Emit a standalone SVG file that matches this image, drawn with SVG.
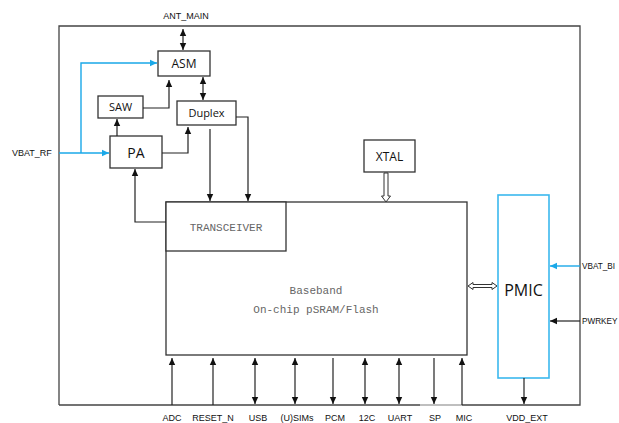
<svg xmlns="http://www.w3.org/2000/svg" width="619" height="423" viewBox="0 0 619 423">
<defs>
<marker id="ah" markerWidth="8" markerHeight="8" refX="7" refY="4" orient="auto-start-reverse" markerUnits="userSpaceOnUse"><path d="M0,0.8 L7,4 L0,7.2 Z" fill="#111"/></marker>
<marker id="ahb" markerWidth="8" markerHeight="8" refX="7" refY="4" orient="auto-start-reverse" markerUnits="userSpaceOnUse"><path d="M0,0.8 L7,4 L0,7.2 Z" fill="#1AA8E8"/></marker>
</defs>
<style>
.box{fill:#fff;stroke:#333;stroke-width:1.3}
.bbox{fill:#fff;stroke:#3BB8EE;stroke-width:1.6}
.ln{fill:none;stroke:#222;stroke-width:1.2}
.bl{fill:none;stroke:#1AA8E8;stroke-width:1.4}
.lab{font-family:"Liberation Sans",Arial,sans-serif;font-size:9px;fill:#111}
.sm{font-size:8.2px}
.bt{font-family:"Open Sans","Liberation Sans",sans-serif;fill:#111;text-anchor:middle}
.mono{font-family:"Liberation Mono","Courier New",monospace;font-size:11px;fill:#666;text-anchor:middle}
</style>
<rect width="619" height="423" fill="#fff"/>
<g id="frame">
<path d="M59,405 L59,26 L580,26 L580,405 L462,405" fill="none" stroke="#444" stroke-width="1.3"/>
<path d="M420,405 L59,405" fill="none" stroke="#444" stroke-width="1.3"/>
<path d="M420,405 L462,405" fill="none" stroke="#aaa" stroke-width="1.3"/>
</g>
<g id="baseband"><rect class="box" x="166" y="202" width="301" height="153"/>
<text class="mono" x="316" y="294">Baseband</text>
<text class="mono" x="316" y="313">On-chip pSRAM/Flash</text></g>
<g id="transceiver"><rect class="box" x="166" y="202" width="120" height="49"/>
<text class="mono" x="226" y="231">TRANSCEIVER</text></g>
<g id="asm"><rect class="box" x="158" y="51" width="52" height="25"/><text class="bt" x="184" y="68" font-size="12">ASM</text></g>
<g id="saw"><rect class="box" x="98" y="96" width="45" height="22"/><text class="bt" x="120.5" y="111" font-size="11">SAW</text></g>
<g id="duplex"><rect class="box" x="177" y="101" width="59" height="24"/><text class="bt" x="206.5" y="117" font-size="11">Duplex</text></g>
<g id="pa"><rect class="box" x="110" y="136" width="52" height="32"/><text class="bt" x="136" y="157.5" font-size="14">PA</text></g>
<g id="xtal"><rect class="box" x="364" y="140" width="51" height="32"/><text class="bt" x="389.5" y="160.5" font-size="12">XTAL</text></g>
<g id="pmic"><rect class="bbox" x="498" y="195" width="51" height="183"/><text class="bt" x="523.5" y="296" font-size="16">PMIC</text></g>
<g id="labels">
<text class="lab" x="186" y="19" text-anchor="middle">ANT_MAIN</text>
<text class="lab" x="12" y="156">VBAT_RF</text>
<text class="lab sm" x="582" y="269">VBAT_BI</text>
<text class="lab sm" x="582" y="324">PWRKEY</text>
<text class="lab" x="172" y="421" text-anchor="middle">ADC</text>
<text class="lab" x="213" y="421" text-anchor="middle">RESET_N</text>
<text class="lab" x="258" y="421" text-anchor="middle">USB</text>
<text class="lab" x="297" y="421" text-anchor="middle">(U)SIMs</text>
<text class="lab" x="335" y="421" text-anchor="middle">PCM</text>
<text class="lab" x="367" y="421" text-anchor="middle">12C</text>
<text class="lab" x="400" y="421" text-anchor="middle">UART</text>
<text class="lab" x="435" y="421" text-anchor="middle">SP</text>
<text class="lab" x="464" y="421" text-anchor="middle">MIC</text>
<text class="lab" x="527" y="421" text-anchor="middle">VDD_EXT</text>
</g>
<g id="connectors">
<path class="ln" d="M183,29 L183,50" marker-start="url(#ah)" marker-end="url(#ah)"/>
<path class="bl" d="M59,153 L109,153" marker-end="url(#ahb)"/>
<path class="bl" d="M81,153 L81,63 L157,63" marker-end="url(#ahb)"/>
<path class="ln" d="M143,108 L169,108 L169,80" marker-end="url(#ah)"/>
<path class="ln" d="M117,136 L117,119" marker-end="url(#ah)"/>
<path class="ln" d="M162,153 L188,153 L188,127" marker-end="url(#ah)"/>
<path class="ln" d="M203,77 L203,100" marker-start="url(#ah)" marker-end="url(#ah)"/>
<path class="ln" d="M210,129 L210,201" marker-end="url(#ah)"/>
<path class="ln" d="M236,117 L248,117 L248,201" marker-end="url(#ah)"/>
<path class="ln" d="M166,222 L135,222 L135,169" marker-end="url(#ah)"/>
<path d="M384,173 L384,196 L381.5,196 L386,202 L390.5,196 L388,196 L388,173 Z" fill="#fff" stroke="#333" stroke-width="1"/>
<path d="M468,286 L473,282.5 L473,284.5 L492,284.5 L492,282.5 L497,286 L492,289.5 L492,287.5 L473,287.5 L473,289.5 Z" fill="#fff" stroke="#333" stroke-width="1"/>
<path class="bl" d="M580,266 L550,266" marker-end="url(#ahb)"/>
<path class="ln" d="M580,321 L550,321" marker-end="url(#ah)"/>
<path class="ln" d="M524,378 L524,404" marker-end="url(#ah)"/>
<path class="ln" d="M172,405 L172,358" marker-end="url(#ah)"/>
<path class="ln" d="M213,405 L213,358" marker-end="url(#ah)"/>
<path class="ln" d="M255,404 L255,358" marker-start="url(#ah)" marker-end="url(#ah)"/>
<path class="ln" d="M295,404 L295,358" marker-start="url(#ah)" marker-end="url(#ah)"/>
<path class="ln" d="M333,358 L333,404" marker-end="url(#ah)"/>
<path class="ln" d="M365,404 L365,358" marker-start="url(#ah)" marker-end="url(#ah)"/>
<path class="ln" d="M399,404 L399,358" marker-start="url(#ah)" marker-end="url(#ah)"/>
<path class="ln" d="M434,358 L434,404" marker-end="url(#ah)"/>
<path class="ln" d="M462,405 L462,358" marker-end="url(#ah)"/>
</g>
</svg>
